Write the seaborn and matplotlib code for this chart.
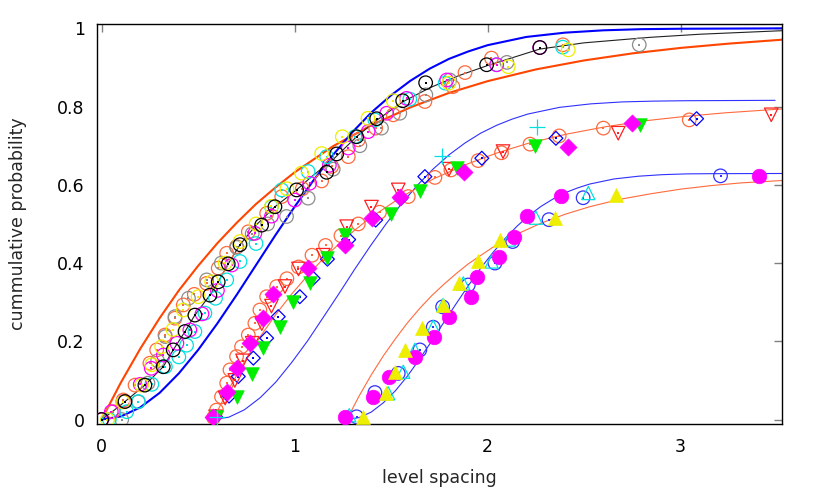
import matplotlib
matplotlib.use("Agg")
import matplotlib.pyplot as plt
import seaborn as sns

# ---- theory curves, values ----
# group 1 (no shift): GOE, Poisson and the black fit
wig1_x = [0, 0.1, 0.2, 0.3, 0.4, 0.5, 0.6, 0.7, 0.8, 0.9, 1.0, 1.1, 1.2, 1.3, 1.4, 1.5, 1.6, 1.7, 1.8, 1.9, 2.0,
          2.2, 2.4, 2.6, 2.8, 3.0, 3.525]
wig1_y = [0, 0.008, 0.031, 0.068, 0.118, 0.178, 0.246, 0.319, 0.395, 0.471, 0.544, 0.613, 0.677, 0.735, 0.786,
          0.829, 0.866, 0.897, 0.922, 0.941, 0.957, 0.978, 0.989, 0.995, 0.998, 0.999, 1.0]
poi1_x = [0, 0.1, 0.2, 0.3, 0.4, 0.5, 0.6, 0.7, 0.8, 0.9, 1.0, 1.2, 1.4, 1.6, 1.8, 2.0, 2.25, 2.5, 2.75, 3.0, 3.25, 3.525]
poi1_y = [0, 0.095, 0.181, 0.259, 0.330, 0.393, 0.451, 0.503, 0.551, 0.593, 0.632, 0.699, 0.753, 0.798, 0.835,
          0.865, 0.895, 0.918, 0.936, 0.950, 0.961, 0.971]
fit1_x = [0, 0.06, 0.121, 0.224, 0.319, 0.371, 0.432, 0.483, 0.561, 0.604, 0.656, 0.717, 0.80, 0.898, 1.01, 1.088,
          1.2, 1.321, 1.425, 1.56, 1.70, 1.85, 2.0, 2.27, 2.5, 2.84, 3.1, 3.525]
fit1_y = [0, 0.022, 0.046, 0.088, 0.135, 0.178, 0.225, 0.267, 0.318, 0.352, 0.398, 0.447, 0.497, 0.544, 0.587, 0.621,
          0.665, 0.723, 0.765, 0.812, 0.848, 0.879, 0.905, 0.947, 0.963, 0.977, 0.985, 0.994]

# group 2 (shifted, scaled)
wig2_x = [0.577, 0.659, 0.740, 0.822, 0.903, 0.985, 1.067, 1.148, 1.230, 1.311, 1.393, 1.475, 1.556, 1.638, 1.719,
          1.801, 1.883, 1.964, 2.046, 2.127, 2.209, 2.372, 2.535, 2.699, 2.862, 3.025, 3.490]
wig2_y = [0, 0.006, 0.025, 0.056, 0.096, 0.146, 0.201, 0.261, 0.322, 0.384, 0.444, 0.501, 0.553, 0.600, 0.641,
          0.677, 0.707, 0.732, 0.752, 0.768, 0.781, 0.798, 0.807, 0.812, 0.814, 0.815, 0.816]
poi2_x = [0.577, 0.659, 0.740, 0.822, 0.903, 0.985, 1.067, 1.148, 1.230, 1.311, 1.393, 1.556, 1.719, 1.883, 2.046,
          2.209, 2.413, 2.617, 2.821, 3.025, 3.229, 3.525]
poi2_y = [0, 0.078, 0.148, 0.212, 0.269, 0.321, 0.368, 0.411, 0.449, 0.484, 0.516, 0.570, 0.615, 0.651, 0.681,
          0.706, 0.730, 0.749, 0.764, 0.775, 0.784, 0.794]

# group 3 (shifted, scaled)
wig3_x = [1.271, 1.334, 1.397, 1.460, 1.523, 1.586, 1.648, 1.711, 1.774, 1.837, 1.900, 1.963, 2.026, 2.089, 2.152,
          2.215, 2.277, 2.340, 2.403, 2.466, 2.529, 2.655, 2.781, 2.906, 3.032, 3.158, 3.525]
wig3_y = [0, 0.005, 0.019, 0.043, 0.074, 0.112, 0.155, 0.201, 0.249, 0.296, 0.342, 0.386, 0.426, 0.462, 0.494,
          0.522, 0.545, 0.564, 0.580, 0.592, 0.602, 0.615, 0.622, 0.626, 0.628, 0.6285, 0.629]
poi3_x = [1.271, 1.334, 1.397, 1.460, 1.523, 1.586, 1.648, 1.711, 1.774, 1.837, 1.900, 2.026, 2.152, 2.277, 2.403,
          2.529, 2.686, 2.844, 3.001, 3.158, 3.315, 3.525]
poi3_y = [0, 0.060, 0.114, 0.163, 0.207, 0.248, 0.284, 0.317, 0.346, 0.373, 0.398, 0.440, 0.474, 0.502, 0.525,
          0.544, 0.563, 0.577, 0.589, 0.598, 0.605, 0.611]

# ---- data points ----
# group 1
orange1_x = [0.0, 0.06, 0.112, 0.173, 0.25, 0.285, 0.328, 0.38, 0.423, 0.48, 0.544, 0.604, 0.648, 0.699, 0.76,
             0.855, 0.933, 1.04, 1.14, 1.192, 1.278, 1.33, 1.42, 1.511, 1.675, 1.82, 1.883, 2.02, 2.39]
orange1_y = [0.0, 0.02, 0.05, 0.088, 0.144, 0.178, 0.216, 0.259, 0.293, 0.32, 0.348, 0.387, 0.425, 0.442, 0.48,
             0.527, 0.57, 0.59, 0.61, 0.647, 0.672, 0.715, 0.745, 0.779, 0.813, 0.851, 0.887, 0.924, 0.958]
gray1_x = [0.104, 0.19, 0.24, 0.29, 0.33, 0.38, 0.45, 0.544, 0.62, 0.70, 0.78, 0.86, 0.958, 1.07, 1.2, 1.338,
           1.45, 1.545, 1.68, 1.804, 2.10, 2.786]
gray1_y = [0.0, 0.045, 0.093, 0.15, 0.212, 0.263, 0.31, 0.357, 0.40, 0.44, 0.475, 0.50, 0.519, 0.566, 0.64, 0.70,
           0.745, 0.783, 0.83, 0.868, 0.913, 0.958]
cyan1_x = [0.04, 0.13, 0.19, 0.26, 0.33, 0.40, 0.44, 0.483, 0.535, 0.59, 0.648, 0.717, 0.80, 0.88, 0.933, 1.07,
           1.166, 1.312, 1.416, 1.597, 1.78, 2.047, 2.389]
cyan1_y = [0.0, 0.02, 0.046, 0.09, 0.135, 0.16, 0.19, 0.225, 0.272, 0.31, 0.357, 0.404, 0.45, 0.544, 0.587, 0.634,
           0.672, 0.723, 0.766, 0.819, 0.86, 0.907, 0.952]
magenta1_x = [0.0, 0.05, 0.11, 0.2, 0.257, 0.32, 0.39, 0.457, 0.52, 0.60, 0.674, 0.794, 0.88, 1.0, 1.078, 1.18,
              1.278, 1.381, 1.477, 1.58, 1.788, 2.047, 2.27]
magenta1_y = [0.0, 0.02, 0.046, 0.09, 0.131, 0.165, 0.195, 0.229, 0.27, 0.33, 0.395, 0.476, 0.52, 0.561, 0.604,
              0.65, 0.694, 0.736, 0.783, 0.821, 0.868, 0.907, 0.951]
yellow1_x = [0.03, 0.11, 0.207, 0.26, 0.311, 0.37, 0.423, 0.5, 0.57, 0.64, 0.717, 0.80, 0.88, 0.96, 1.036, 1.14,
             1.247, 1.38, 1.511, 1.80, 2.107, 2.418]
yellow1_y = [0.0, 0.045, 0.088, 0.14, 0.186, 0.23, 0.28, 0.314, 0.352, 0.40, 0.455, 0.50, 0.545, 0.59, 0.63, 0.68,
             0.723, 0.77, 0.815, 0.86, 0.902, 0.945]
black1_x = [0.0, 0.121, 0.224, 0.319, 0.371, 0.432, 0.483, 0.561, 0.604, 0.656, 0.717, 0.829, 0.898, 1.01, 1.166,
            1.218, 1.321, 1.425, 1.56, 1.679, 1.995, 2.271]
black1_y = [0.0, 0.046, 0.088, 0.135, 0.178, 0.225, 0.267, 0.318, 0.352, 0.398, 0.447, 0.497, 0.544, 0.587, 0.632,
            0.679, 0.723, 0.769, 0.815, 0.861, 0.907, 0.951]

# group 2
orange2_x = [0.58, 0.595, 0.621, 0.648, 0.665, 0.699, 0.725, 0.760, 0.794, 0.820, 0.855, 0.907, 0.96, 1.02, 1.09,
             1.16, 1.24, 1.33, 1.44, 1.589, 1.727, 1.81, 1.951, 2.072, 2.22, 2.371, 2.6, 3.045]
orange2_y = [0.005, 0.024, 0.058, 0.093, 0.127, 0.161, 0.186, 0.216, 0.246, 0.280, 0.314, 0.340, 0.36, 0.39, 0.42,
             0.445, 0.47, 0.50, 0.53, 0.570, 0.619, 0.638, 0.662, 0.682, 0.704, 0.725, 0.745, 0.766]
blue2_x = [0.59, 0.66, 0.708, 0.786, 0.855, 0.915, 1.027, 1.096, 1.17, 1.28, 1.42, 1.55, 1.675, 1.97, 2.354, 3.083]
blue2_y = [0.007, 0.06, 0.11, 0.157, 0.208, 0.263, 0.314, 0.361, 0.41, 0.46, 0.51, 0.565, 0.621, 0.668, 0.719, 0.769]
red2_x = [0.59, 0.64, 0.69, 0.73, 0.78, 0.83, 0.88, 0.95, 1.02, 1.148, 1.27, 1.398, 1.537, 1.80, 2.08, 2.677, 3.47]
red2_y = [0.007, 0.055, 0.10, 0.15, 0.195, 0.245, 0.29, 0.34, 0.385, 0.42, 0.493, 0.543, 0.587, 0.64, 0.685,
          0.732, 0.779]
green2_x = [0.59, 0.699, 0.78, 0.837, 0.924, 0.99, 1.08, 1.166, 1.26, 1.5, 1.65, 1.84, 2.245, 2.79]
green2_y = [0.007, 0.058, 0.117, 0.182, 0.237, 0.30, 0.35, 0.412, 0.472, 0.525, 0.583, 0.642, 0.698, 0.753]
magenta2_x = [0.578, 0.648, 0.699, 0.768, 0.837, 0.889, 1.07, 1.26, 1.40, 1.546, 1.88, 2.418, 2.75]
magenta2_y = [0.007, 0.071, 0.131, 0.195, 0.259, 0.321, 0.387, 0.446, 0.515, 0.57, 0.632, 0.696, 0.759]
cyan2_x = [0.596, 1.762, 2.257]
cyan2_y = [0.007, 0.674, 0.747]

# group 3
blue3_x = [1.321, 1.416, 1.537, 1.649, 1.718, 1.767, 1.9, 2.038, 2.13, 2.318, 2.495, 3.207]
blue3_y = [0.007, 0.069, 0.118, 0.178, 0.236, 0.288, 0.344, 0.40, 0.455, 0.511, 0.567, 0.623]
cyan3_x = [1.283, 1.485, 1.563, 1.623, 1.718, 1.77, 1.874, 2.021, 2.11, 2.25, 2.522]
cyan3_y = [0.011, 0.067, 0.122, 0.178, 0.237, 0.293, 0.348, 0.404, 0.46, 0.516, 0.579]
magenta3_x = [1.261, 1.407, 1.49, 1.623, 1.723, 1.801, 1.912, 1.943, 2.06, 2.137, 2.204, 2.38, 3.405]
magenta3_y = [0.007, 0.058, 0.109, 0.161, 0.212, 0.263, 0.314, 0.365, 0.416, 0.467, 0.52, 0.571, 0.623]
yellow3_x = [1.356, 1.476, 1.52, 1.572, 1.658, 1.77, 1.853, 1.948, 2.063, 2.35, 2.668]
yellow3_y = [0.007, 0.067, 0.122, 0.178, 0.233, 0.293, 0.348, 0.404, 0.46, 0.515, 0.574]

BLUE = "#0000ff"
BLUE_THIN = "#3030ff"
ORANGE = "#ff4500"
CORAL = "#ff6a3d"
CYAN = "#00e0e0"
MAGENTA = "#ff00ff"
YELLOW = "#eeee00"
GRAY = "#8c8c8c"
GREEN = "#00ee00"
RED = "#ff2020"

sns.set_style("white")
plt.rcParams["font.family"] = ["DejaVu Sans"]

fig = plt.figure(figsize=(8.17, 4.91), dpi=100)
ax = fig.add_axes([0.119, 0.136, 0.838, 0.815])


def curve(x, y, color, lw):
    sns.lineplot(x=x, y=y, sort=False, estimator=None, color=color, linewidth=lw, ax=ax, zorder=2)


def pts(x, y, marker, color, s, filled=False, dot=False):
    if filled:
        sns.scatterplot(x=x, y=y, marker=marker, s=s, color=color, edgecolor=color, linewidth=0.5,
                        ax=ax, zorder=3)
    elif marker == "+":
        sns.scatterplot(x=x, y=y, marker=marker, s=s, color=color, linewidth=0.9, ax=ax, zorder=3)
    else:
        sns.scatterplot(x=x, y=y, marker=marker, s=s, facecolor="none", edgecolor=color, linewidth=0.9,
                        ax=ax, zorder=3)
    if dot:
        sns.scatterplot(x=x, y=y, marker="s", s=3, color=color, linewidth=0, ax=ax, zorder=3)


# lines
curve(poi1_x, poi1_y, ORANGE, 1.5)
curve(wig1_x, wig1_y, BLUE, 1.5)
curve(fit1_x, fit1_y, "#222222", 0.8)
curve(wig2_x, wig2_y, BLUE_THIN, 0.8)
curve(poi2_x, poi2_y, CORAL, 0.8)
curve(wig3_x, wig3_y, BLUE_THIN, 0.8)
curve(poi3_x, poi3_y, CORAL, 0.8)

# group 1 points
pts(orange1_x, orange1_y, "o", CORAL, 95, dot=True)
pts(gray1_x, gray1_y, "o", GRAY, 95, dot=True)
pts(cyan1_x, cyan1_y, "o", CYAN, 95, dot=True)
pts(magenta1_x, magenta1_y, "o", MAGENTA, 95, dot=True)
pts(yellow1_x, yellow1_y, "o", YELLOW, 95, dot=True)
pts(black1_x, black1_y, "o", "black", 95, dot=True)

# group 2 points
pts(orange2_x, orange2_y, "o", CORAL, 95, dot=True)
pts(blue2_x, blue2_y, "D", BLUE, 50, dot=True)
pts(red2_x, red2_y, "v", RED, 95, dot=True)
pts(green2_x, green2_y, "v", GREEN, 95, filled=True)
pts(magenta2_x, magenta2_y, "D", MAGENTA, 75, filled=True)
pts(cyan2_x, cyan2_y, "+", CYAN, 120)

# group 3 points
pts(blue3_x, blue3_y, "o", BLUE_THIN, 95, dot=True)
pts(cyan3_x, cyan3_y, "^", CYAN, 90)
pts(magenta3_x, magenta3_y, "o", MAGENTA, 110, filled=True)
pts(yellow3_x, yellow3_y, "^", YELLOW, 100, filled=True)

ax.set_xlim(-0.023, 3.525)
ax.set_ylim(-0.012, 1.011)
ax.set_xticks([0, 1, 2, 3])
ax.set_xticklabels(["0", "1", "2", "3"])
ax.set_yticks([0, 0.2, 0.4, 0.6, 0.8, 1.0])
ax.set_yticklabels(["0", "0.2", "0.4", "0.6", "0.8", "1"])
ax.tick_params(direction="in", length=6, width=1, color="#808080", top=True, right=True,
               labelsize=12.5, labelcolor="black")
ax.tick_params(axis="y", pad=9)
ax.tick_params(axis="x", pad=10)
for sp in ax.spines.values():
    sp.set_color("black")
    sp.set_linewidth(1)

ax.set_xlabel("level spacing", fontsize=12.5, labelpad=9)
ax.set_ylabel("cummulative probability", fontsize=12.5, labelpad=22)

fig.savefig("out.png", dpi=100)
plt.close(fig)
